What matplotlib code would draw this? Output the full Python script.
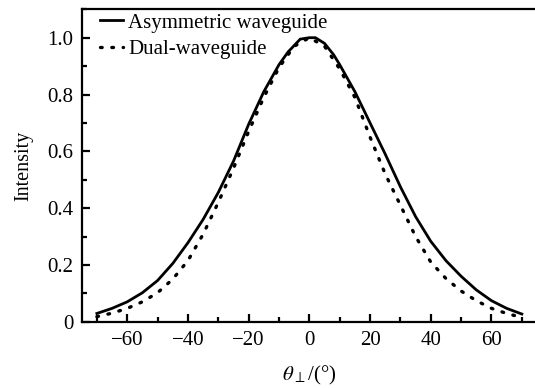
#!/usr/bin/env python3

import matplotlib
matplotlib.use('Agg')
import matplotlib.pyplot as plt
from matplotlib.ticker import MultipleLocator, FixedFormatter, FixedLocator

# far-field profiles
angle_asym = [-70, -65, -60, -55, -50, -45, -40, -35, -30, -25, -20, -15, -10, -7, -3, 0,
              2, 5, 8, 10, 15, 20, 25, 30, 35, 40, 45, 50, 55, 60, 65, 70]
int_asym = [0.029, 0.047, 0.070, 0.102, 0.145, 0.205, 0.278, 0.360, 0.455, 0.565, 0.695, 0.810,
            0.905, 0.950, 0.995, 1.0, 1.0, 0.980, 0.940, 0.905, 0.810, 0.700, 0.590, 0.475,
            0.370, 0.283, 0.215, 0.160, 0.112, 0.074, 0.047, 0.027]

angle_dual = [-70, -65, -60, -55, -50, -45, -40, -35, -30, -25, -20, -15, -10, -5, 0,
              5, 10, 15, 20, 25, 30, 35, 40, 45, 50, 55, 60, 65, 70]
int_dual = [0.018, 0.030, 0.047, 0.070, 0.102, 0.150, 0.215, 0.308, 0.420, 0.540, 0.670, 0.790,
            0.895, 0.970, 1.0, 0.970, 0.890, 0.790, 0.650, 0.520, 0.410, 0.300, 0.210, 0.152,
            0.108, 0.074, 0.047, 0.029, 0.015]

y_ticks = [0, 0.2, 0.4, 0.6, 0.8, 1.0]
y_labels = ['0', '0.2', '0.4', '0.6', '0.8', '1.0']

plt.rcParams['font.family'] = ['Liberation Serif', 'DejaVu Serif']
plt.rcParams['mathtext.fontset'] = 'stix'
plt.rcParams['font.size'] = 15

W, H = 535, 388
fig = plt.figure(figsize=(W / 100, H / 100), dpi=100)
# right edge runs just past the image, as in the reference
ax = fig.add_axes([81.7 / W, 1 - 321.7 / H, (537 - 81.7) / W, (321.7 - 9.3) / H])

ax.plot(angle_asym, int_asym, color='black', lw=2.0, label='Asymmetric waveguide')
ax.plot(angle_dual, int_dual, color='black', lw=2.4, linestyle=(0, (0.5, 2.9)),
        dash_capstyle='round', label='Dual-waveguide')

ax.set_xlim(-75, 75)
ax.set_ylim(0, 1.1)
ax.xaxis.set_major_locator(MultipleLocator(20))
ax.xaxis.set_minor_locator(MultipleLocator(10))
ax.yaxis.set_major_locator(FixedLocator(y_ticks))
ax.yaxis.set_major_formatter(FixedFormatter(y_labels))
ax.yaxis.set_minor_locator(MultipleLocator(0.1))
ax.tick_params(which='both', direction='in', width=1.6, labelsize=15)
ax.tick_params(which='major', length=6)
ax.tick_params(which='minor', length=3.5)
ax.tick_params(axis='x', pad=7)
ax.tick_params(axis='y', pad=6)
for s in ax.spines.values():
    s.set_linewidth(1.6)

ax.set_xlabel(r'$\theta_{\perp}$/(°)', fontsize=15, labelpad=10)
ax.set_ylabel('Intensity', fontsize=14.5, labelpad=10)

ax.legend(loc='upper left', frameon=False, fontsize=15, handlelength=1.1,
          handletextpad=0.25, borderaxespad=0.0, labelspacing=0.35,
          bbox_to_anchor=(0.022, 1.015))

fig.savefig('out.png', dpi=100)
